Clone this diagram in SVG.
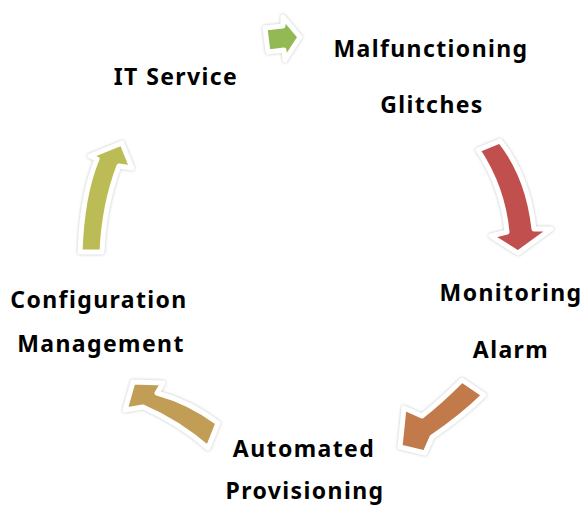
<svg xmlns="http://www.w3.org/2000/svg" width="582" height="509" viewBox="0 0 582 509">
<defs>
<filter id="glow" x="-30%" y="-30%" width="160%" height="160%">
<feDropShadow dx="0" dy="0" stdDeviation="1.6" flood-color="#888" flood-opacity="0.55"/>
</filter>
<style>
.lbl{font-family:"Noto Sans","Liberation Sans",sans-serif;font-weight:bold;font-size:23px;letter-spacing:1.4px;fill:#000;text-anchor:middle}
.arr{stroke:#fff;stroke-width:5;stroke-linejoin:round;filter:url(#glow)}
</style>
</defs>
<rect width="582" height="509" fill="#fff"/>
<g id="connectors">
<path class="arr" fill="#93B954" d="M265,28 L283,26 L283,17 L300,37 L285,60 L284,50 L268,52 Z"/>
<path class="arr" fill="#C0504D" d="M478,150 Q503,188 507,232 L491,236 L518,253 L551,229 L534,229 Q528,176 500,141 Z"/>
<path class="arr" fill="#C37A4C" d="M462,380 Q440,402 422,416 L404,408 L400,447 L425,453 L432,437 Q463,416 484,395 Z"/>
<path class="arr" fill="#C29D55" d="M218,423 Q190,402 157,393 L163,383 L133,382 L125,410 L143,407 Q178,422 208,448 Z"/>
<path class="arr" fill="#BCBC56" d="M80,252 Q82,195 97,159 L90,156 L122,143 L132,168 L119,166 Q104,205 102,252 Z"/>
</g>
<g id="n1"><text class="lbl" x="176" y="85">IT Service</text></g>
<g id="n2"><text class="lbl" x="431" y="57">Malfunctioning</text><text class="lbl" x="432" y="113">Glitches</text></g>
<g id="n3"><text class="lbl" x="511" y="301">Monitoring</text><text class="lbl" x="511" y="358">Alarm</text></g>
<g id="n4"><text class="lbl" x="304" y="457">Automated</text><text class="lbl" x="305" y="499">Provisioning</text></g>
<g id="n5"><text class="lbl" x="99" y="308">Configuration</text><text class="lbl" x="101" y="352">Management</text></g>
</svg>
